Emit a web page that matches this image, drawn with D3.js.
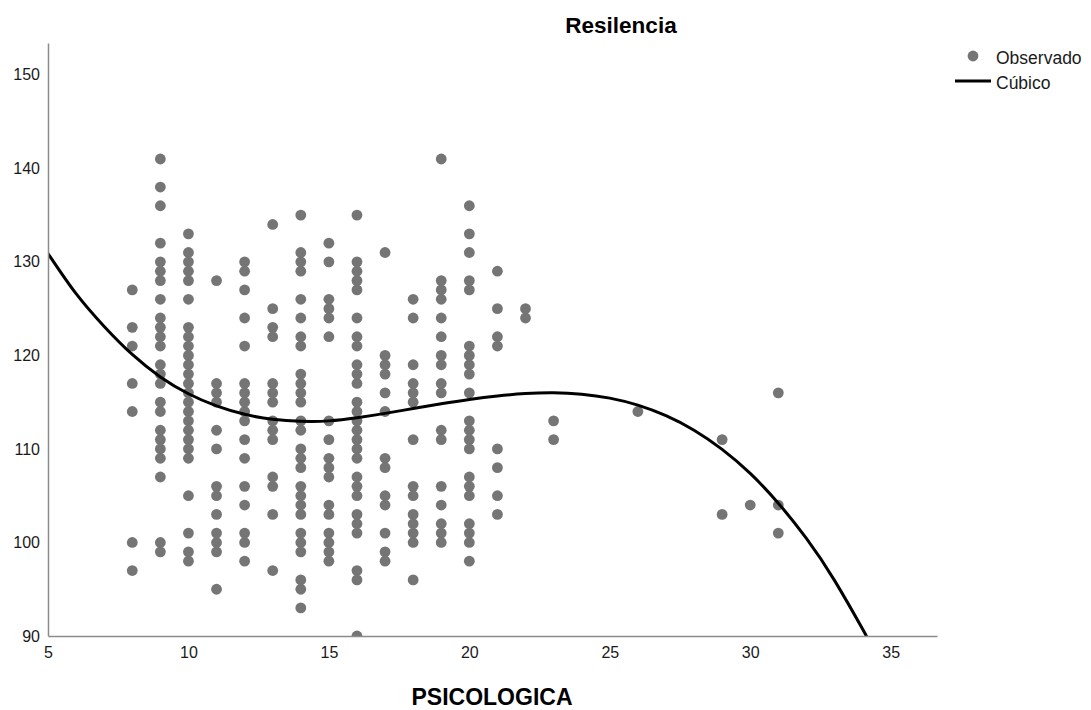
<!DOCTYPE html>
<html>
<head>
<meta charset="utf-8">
<script src="https://cdn.jsdelivr.net/npm/d3@7"></script>
<style>
  html, body { margin: 0; padding: 0; background: #fff; }
  svg { display: block; font-family: "Liberation Sans", Arial, sans-serif; }
</style>
</head>
<body>
<svg id="chart" width="1091" height="710"></svg>
<script>
// ---- Data ----
const psicologicaLevels = [8, 9, 10, 11, 12, 13, 14, 15, 16, 17, 18, 19, 20, 21, 22, 23, 26, 29, 30, 31];
const resilenciaByLevel = [
  [127,123,121,117,114,100,97],
  [141,138,136,132,130,129,128,126,124,123,122,121,119,118,117,115,114,112,111,110,109,107,100,99],
  [133,131,130,129,128,126,123,122,121,120,119,118,117,116,115,114,113,112,111,110,109,105,101,99,98],
  [128,117,116,115,112,110,106,105,103,101,100,99,95],
  [130,129,127,124,121,117,116,115,114,113,111,109,106,104,101,100,98],
  [134,125,123,122,117,116,115,113,112,111,107,106,103,97],
  [135,131,130,129,126,124,122,121,118,117,116,115,113,112,110,109,108,106,105,104,103,101,100,99,96,95,93],
  [132,130,126,125,124,122,113,111,109,108,107,104,103,101,100,99,98],
  [135,130,129,128,127,124,122,121,119,118,117,115,114,113,112,111,110,109,107,106,105,103,102,101,97,96,90],
  [131,120,119,118,116,114,109,108,105,104,101,99,98],
  [126,124,119,117,116,115,111,106,105,103,102,101,100,96],
  [141,128,127,126,124,122,120,119,117,116,112,111,106,104,102,101,100],
  [136,133,131,128,127,121,120,119,118,116,113,112,111,110,107,106,105,102,101,100,98],
  [129,125,122,121,110,108,105,103],
  [125,124],
  [113,111],
  [114],
  [111,103],
  [104],
  [116,104,101]
];
// Cubic fit line
const cubicX = [5, 6, 7, 8, 9, 10, 11, 12, 13, 14, 15, 16, 17, 18, 19, 20, 21, 22, 23, 24, 25, 26, 27, 28, 29, 30, 31, 32, 33, 34, 34.13];
const cubicY = [130.9, 126.6, 123.1, 120.1, 117.7, 115.9, 114.6, 113.7, 113.17, 112.96, 113.0, 113.33, 113.8, 114.32, 114.82, 115.28, 115.66, 115.92, 116.0, 115.85, 115.43, 114.68, 113.55, 112.0, 109.95, 107.38, 104.2, 100.43, 95.95, 90.74, 90.0];
const xTicks = [5, 10, 15, 20, 25, 30, 35];
const yTicks = [90, 100, 110, 120, 130, 140, 150];
const titleText = "Resilencia";
const xLabel = "PSICOLOGICA";
const legendLabels = ["Observado", "Cúbico"];

// ---- Build ----
const observations = [];
psicologicaLevels.forEach((xv, i) => resilenciaByLevel[i].forEach(yv => observations.push({x: xv, y: yv})));
const cubic = cubicX.map((xv, i) => ({x: xv, y: cubicY[i]}));

const svg = d3.select("#chart");
const L = 48, R = 937, T = 43, B = 636;
const x = d3.scaleLinear().domain([5, 36.65]).range([L, R]);
const y = d3.scaleLinear().domain([90, 153.4]).range([B, T]);

svg.append("defs").append("clipPath").attr("id", "plotClip")
  .append("rect").attr("x", L).attr("y", T).attr("width", R - L).attr("height", B - T);

const axisColor = "#8c8c8c";
// Points
svg.append("g").attr("clip-path", "url(#plotClip)")
  .selectAll("circle").data(observations).join("circle")
  .attr("cx", d => x(d.x)).attr("cy", d => y(d.y)).attr("r", 5.4)
  .attr("fill", "#757575");

// Cubic line
svg.append("path").datum(cubic)
  .attr("clip-path", "url(#plotClip)")
  .attr("fill", "none").attr("stroke", "#000").attr("stroke-width", 3)
  .attr("d", d3.line().x(d => x(d.x)).y(d => y(d.y)).curve(d3.curveNatural));

// Axes
const xAxis = svg.append("g").attr("transform", `translate(0,${B})`)
  .call(d3.axisBottom(x).tickValues(xTicks).tickSize(0).tickPadding(11).tickFormat(d3.format("d")));
const yAxis = svg.append("g").attr("transform", `translate(${L},0)`)
  .call(d3.axisLeft(y).tickValues(yTicks).tickSize(0).tickPadding(8).tickFormat(d3.format("d")));
[xAxis, yAxis].forEach(a => {
  a.select(".domain").attr("stroke", axisColor).attr("stroke-width", 1.5);
  a.selectAll("text").attr("font-size", 16).attr("fill", "#1a1a1a")
    .attr("font-family", "'Liberation Sans', Arial, sans-serif");
});

// Title
svg.append("text").attr("x", 621).attr("y", 33).attr("text-anchor", "middle")
  .attr("font-size", 22.5).attr("font-weight", "bold").attr("fill", "#000").text(titleText);
// X label
svg.append("text").attr("x", 492).attr("y", 705).attr("text-anchor", "middle")
  .attr("font-size", 23).attr("font-weight", "bold").attr("fill", "#000").text(xLabel);

// Legend
const lg = svg.append("g");
lg.append("circle").attr("cx", 973).attr("cy", 56).attr("r", 5.4).attr("fill", "#757575");
lg.append("text").attr("x", 996).attr("y", 64).attr("font-size", 17.5).attr("fill", "#1a1a1a").text(legendLabels[0]);
lg.append("line").attr("x1", 955).attr("x2", 991).attr("y1", 81).attr("y2", 81)
  .attr("stroke", "#000").attr("stroke-width", 3);
lg.append("text").attr("x", 996).attr("y", 89).attr("font-size", 17.5).attr("fill", "#1a1a1a").text(legendLabels[1]);
</script>
</body>
</html>
